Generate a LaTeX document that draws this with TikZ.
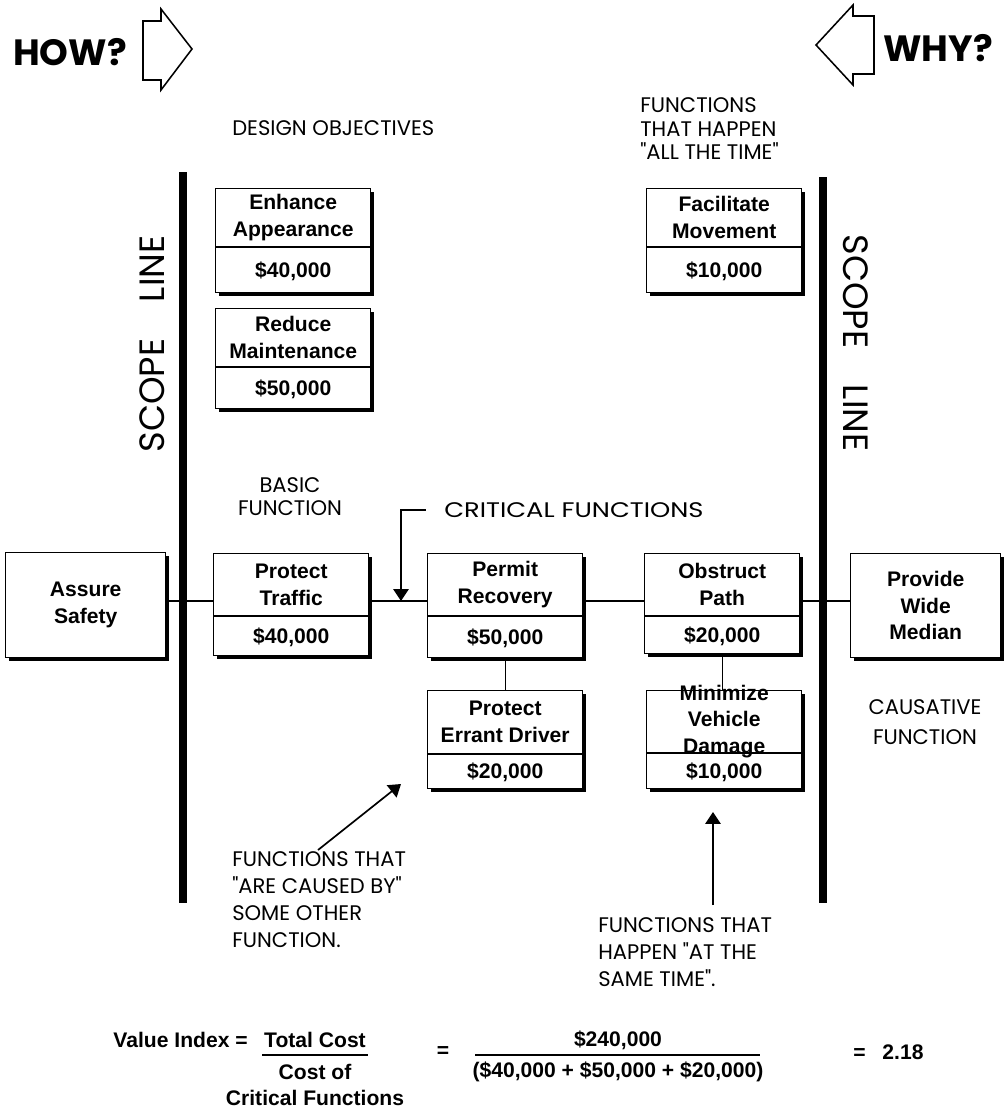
\documentclass[tikz,border=0pt]{standalone}
\usepackage{fontspec}
\setmainfont{Liberation Sans}
\newfontfamily\handfont{Poppins}
\usetikzlibrary{calc,shadows,arrows.meta}

\newcommand\fnbox[7]{%
  \node[fnbody, minimum height=#4*0.025cm] (#1) at (#2,#3) {};
  \draw[divline] ($(#1.north west)+(0,#5)$) -- ($(#1.north east)+(0,#5)$);
  \node[boxtxt] (#1-top) at ($(#1.north)+(0,{#5/2})$) {#6};
  \node[boxtxt] (#1-cost) at ($(#1.south)+(0,{-(#4-#5)/2})$) {#7};
}

\begin{document}
\begin{tikzpicture}[x=0.025cm,y=-0.025cm,
  fnbody/.style={draw=black, line width=1pt, fill=white, minimum width=3.875cm,
    inner sep=0pt, anchor=north west,
    drop shadow={shadow xshift=2pt,shadow yshift=-2pt,opacity=1,fill=black}},
  plainbox/.style={fnbody, font=\bfseries\fontsize{15}{19}\selectfont, align=center},
  divline/.style={line width=1pt},
  boxtxt/.style={font=\bfseries\fontsize{15}{19}\selectfont, align=center, inner sep=0pt},
  hand/.style={font=\handfont\fontsize{15}{19.3}\selectfont, inner sep=0pt},
  bighand/.style={font=\handfont\bfseries\fontsize{26}{30}\selectfont, inner sep=0pt},
  scopetxt/.style={font=\handfont\fontsize{25}{30}\selectfont, inner sep=0pt},
  conn/.style={line width=1pt},
  scopeline/.style={line width=5pt},
  callout/.style={line width=1.2pt, -{Triangle[length=8.5pt,width=11pt]}},
  blockarrow/.style={line width=1.1pt, line join=miter},
  ftxt/.style={font=\bfseries\fontsize{15}{19}\selectfont, inner sep=0pt},
  fbar/.style={line width=1.2pt},
]
\useasboundingbox (0,0) rectangle (1004,1119);

% HOW / WHY
\node[bighand] (how) at (70,52) {HOW?};
\draw[blockarrow] (143,21) -- (161,21) -- (161,9) -- (192,49) -- (161,90) -- (161,80) -- (143,80) -- cycle;
\node[bighand] (why) at (938,48) {WHY?};
\draw[blockarrow] (874,16) -- (853,16) -- (853,5) -- (816,45) -- (853,85) -- (853,74) -- (874,74) -- cycle;

% headings
\node[hand, anchor=west] (design) at (232,128) {DESIGN OBJECTIVES};
\node[hand, anchor=north west, align=left, font=\handfont\fontsize{15}{17}\selectfont] (alltime) at (640,97) {FUNCTIONS\\THAT HAPPEN\\"ALL THE TIME"};
\node[hand, align=center, font=\handfont\fontsize{15}{16.5}\selectfont] (basic) at (290,497) {BASIC\\FUNCTION};
\node[hand, anchor=west] (crit) at (444,510) {\scalebox{1.22}[1]{CRITICAL FUNCTIONS}};
\node[hand, align=center, font=\handfont\fontsize{15}{21}\selectfont] (caus) at (925,722) {CAUSATIVE\\FUNCTION};

% scope lines
\coordinate (sl1t) at (183,172);
\coordinate (sl1b) at (183,903);
\coordinate (sl2t) at (823,177);
\coordinate (sl2b) at (823,903);
\draw[scopeline] (sl1t) -- (sl1b);
\draw[scopeline] (sl2t) -- (sl2b);
\node[scopetxt, rotate=90] (scl) at (152,344) {SCOPE\hspace{26pt}LINE};
\node[scopetxt, rotate=-90] (scr) at (856,343) {SCOPE\hspace{26pt}LINE};

% boxes
\fnbox{enh}{215}{188}{104}{59}{Enhance\\Appearance}{\$40,000}
\fnbox{red}{215}{308}{100}{59}{Reduce\\Maintenance}{\$50,000}
\fnbox{fac}{646}{188}{104}{59}{Facilitate\\Movement}{\$10,000}
\node[plainbox, minimum width=4cm, minimum height=2.625cm] (asr) at (5,552) {Assure\\Safety};
\fnbox{prt}{213}{553}{102}{63}{Protect\\Traffic}{\$40,000}
\fnbox{per}{427}{553}{104}{63}{Permit\\Recovery}{\$50,000}
\fnbox{obs}{644}{553}{100}{63}{Obstruct\\Path}{\$20,000}
\node[plainbox, minimum width=3.75cm, minimum height=2.6cm] (pwm) at (850,553) {Provide\\Wide\\Median};
\fnbox{err}{427}{690}{98}{64}{Protect\\Errant Driver}{\$20,000}
\fnbox{min}{646}{690}{98}{63}{Minimize\\Vehicle\\Damage}{\$10,000}

% connectors
\coordinate (rowy) at (0,601);
\draw[conn] (asr.east |- rowy) -- (prt.west |- rowy);
\draw[conn] (prt.east |- rowy) -- (per.west |- rowy);
\draw[conn] (per.east |- rowy) -- (obs.west |- rowy);
\draw[conn] (obs.east |- rowy) -- (pwm.west |- rowy);
\draw[conn] (per.south) -- (per.south |- err.north);
\draw[conn] (obs.south) -- (obs.south |- min.north);

% critical functions callout
\coordinate (critbend) at (401,510);
\draw[callout] ([xshift=-0.45cm]crit.west) -- (critbend) -- (critbend |- rowy);

% lower notes
\node[hand, anchor=north west, align=left] (causedby) at (232,851) {FUNCTIONS THAT\\"ARE CAUSED BY"\\SOME OTHER\\FUNCTION.};
\coordinate (cbtail) at (318,850);
\coordinate (cbhead) at (401,784);
\draw[callout] (cbtail) -- (cbhead);

\node[hand, anchor=north west, align=left] (sametime) at (598,917) {FUNCTIONS THAT\\HAPPEN "AT THE\\SAME TIME".};
\coordinate (sttail) at (713,905);
\coordinate (sthead) at (713,812);
\draw[callout] (sttail) -- (sthead);

% formula
\node[ftxt, anchor=east] (vi) at (248,1040) {Value Index =};
\node[ftxt] (tc) at (315,1040) {Total Cost};
\coordinate (fb1a) at (262,1055);
\coordinate (fb1b) at (368,1055);
\draw[fbar] (fb1a) -- (fb1b);
\node[ftxt] (co) at (315,1072) {Cost of};
\node[ftxt] (cf) at (315,1098) {Critical Functions};
\node[ftxt] (eq1) at (443,1052) {=};
\node[ftxt] (num) at (618,1040) {\$240,000};
\coordinate (fb2a) at (475,1055);
\coordinate (fb2b) at (760,1055);
\draw[fbar] (fb2a) -- (fb2b);
\node[ftxt] (den) at (618,1072) {(\$40,000 + \$50,000 + \$20,000)};
\node[ftxt, anchor=west] (res) at (853,1052) {=\hspace{0.8em}2.18};
\end{tikzpicture}
\end{document}
